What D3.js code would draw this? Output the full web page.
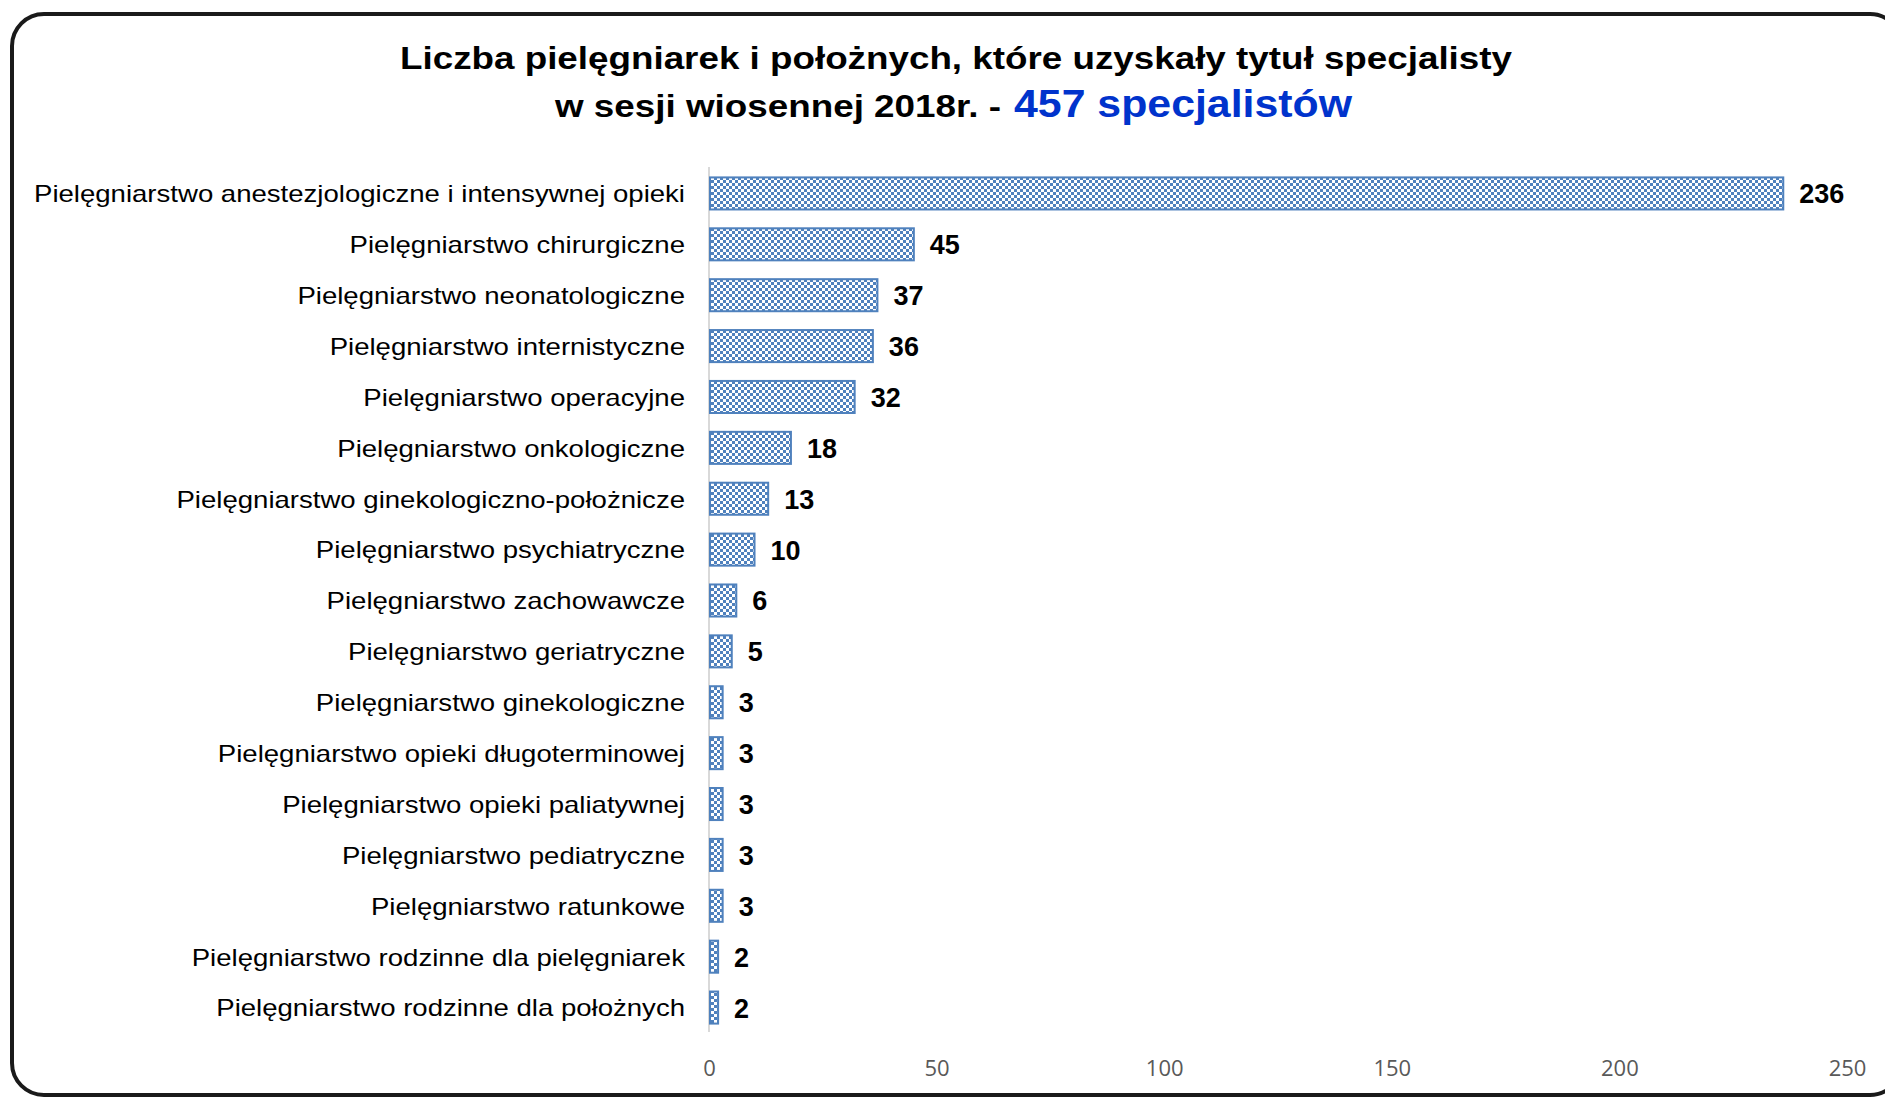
<!DOCTYPE html>
<html>
<head>
<meta charset="utf-8">
<script src="https://cdn.jsdelivr.net/npm/d3@7"></script>
<style>
  body { margin: 0; background: #fff; }
  svg { display: block; }
</style>
</head>
<body>
<svg id="chart" width="1885" height="1099"></svg>
<script>
// dane z wykresu
var categories = [
    "Pielęgniarstwo anestezjologiczne i intensywnej opieki",
    "Pielęgniarstwo chirurgiczne",
    "Pielęgniarstwo neonatologiczne",
    "Pielęgniarstwo internistyczne",
    "Pielęgniarstwo operacyjne",
    "Pielęgniarstwo onkologiczne",
    "Pielęgniarstwo ginekologiczno-położnicze",
    "Pielęgniarstwo psychiatryczne",
    "Pielęgniarstwo zachowawcze",
    "Pielęgniarstwo geriatryczne",
    "Pielęgniarstwo ginekologiczne",
    "Pielęgniarstwo opieki długoterminowej",
    "Pielęgniarstwo opieki paliatywnej",
    "Pielęgniarstwo pediatryczne",
    "Pielęgniarstwo ratunkowe",
    "Pielęgniarstwo rodzinne dla pielęgniarek",
    "Pielęgniarstwo rodzinne dla położnych"
];
var values = [236, 45, 37, 36, 32, 18, 13, 10, 6, 5, 3, 3, 3, 3, 3, 2, 2];
var xTicks = [0, 50, 100, 150, 200, 250];
var titleLine1 = "Liczba pielęgniarek i położnych, które uzyskały tytuł specjalisty";
var titleLine2a = "w sesji wiosennej 2018r. -";
var titleLine2b = "457 specjalistów";

var svg = d3.select("#chart");

var barBlue = "#4f81bd";
var fontArial = "Liberation Sans, Arial, sans-serif";

// wzór szachownicy na słupkach
var defs = svg.append("defs");
var pat = defs.append("pattern")
    .attr("id", "checker")
    .attr("width", 6)
    .attr("height", 6)
    .attr("patternUnits", "userSpaceOnUse");
pat.append("rect").attr("width", 6).attr("height", 6).attr("fill", barBlue);
pat.append("rect").attr("x", 0).attr("y", 0).attr("width", 3).attr("height", 3).attr("fill", "#fff");
pat.append("rect").attr("x", 3).attr("y", 3).attr("width", 3).attr("height", 3).attr("fill", "#fff");

// ramka
svg.append("rect")
    .attr("x", 12).attr("y", 14)
    .attr("width", 1890).attr("height", 1081)
    .attr("rx", 32).attr("ry", 32)
    .attr("fill", "none")
    .attr("stroke", "#1a1a1a")
    .attr("stroke-width", 4);

// tytuł
svg.append("text")
    .attr("x", 956).attr("y", 69)
    .attr("text-anchor", "middle")
    .attr("font-family", fontArial)
    .attr("font-weight", "bold")
    .attr("font-size", 32)
    .attr("textLength", 1112)
    .attr("lengthAdjust", "spacingAndGlyphs")
    .text(titleLine1);

var t2 = svg.append("text")
    .attr("y", 117)
    .attr("font-family", fontArial)
    .attr("font-weight", "bold");
t2.append("tspan")
    .attr("x", 555)
    .attr("font-size", 32)
    .attr("textLength", 446)
    .attr("lengthAdjust", "spacingAndGlyphs")
    .text(titleLine2a);
t2.append("tspan")
    .attr("x", 1014)
    .attr("font-size", 39)
    .attr("fill", "#0033cc")
    .attr("textLength", 338)
    .attr("lengthAdjust", "spacingAndGlyphs")
    .text(titleLine2b);

// skale
var x = d3.scaleLinear().domain([0, 250]).range([709, 1847]);
var y = d3.scaleBand().domain(categories).range([168, 1033]).paddingInner(0.37).paddingOuter(0.185);

// oś pionowa
svg.append("line")
    .attr("x1", x(0)).attr("x2", x(0))
    .attr("y1", 167).attr("y2", 1032)
    .attr("stroke", "#d9d9d9")
    .attr("stroke-width", 2);

// słupki
svg.append("g").selectAll("rect")
    .data(values)
    .join("rect")
    .attr("x", x(0) + 1)
    .attr("y", function (d, i) { return y(categories[i]); })
    .attr("width", function (d) { return x(d) - x(0) - 1; })
    .attr("height", y.bandwidth())
    .attr("fill", "url(#checker)")
    .attr("stroke", barBlue)
    .attr("stroke-width", 2);

// etykiety wartości
svg.append("g").selectAll("text")
    .data(values)
    .join("text")
    .attr("x", function (d) { return x(d) + 16; })
    .attr("y", function (d, i) { return y(categories[i]) + y.bandwidth() / 2; })
    .attr("dy", "0.37em")
    .attr("font-family", fontArial)
    .attr("font-weight", "bold")
    .attr("font-size", 27)
    .attr("fill", "#000")
    .text(function (d) { return d; });

// etykiety kategorii
var catLabels = svg.append("g").selectAll("text")
    .data(categories)
    .join("text")
    .attr("x", 685)
    .attr("y", function (d) { return y(d) + y.bandwidth() / 2; })
    .attr("dy", "0.37em")
    .attr("text-anchor", "end")
    .attr("font-family", fontArial)
    .attr("font-size", 24)
    .attr("fill", "#000")
    .text(function (d) { return d; });

// dopasowanie szerokości (tekst w oryginale jest lekko ściśnięty)
var longest = catLabels.filter(function (d, i) { return i === 0; }).node().getComputedTextLength();
var squeeze = 651 / longest;
catLabels.each(function () {
    var w = this.getComputedTextLength();
    d3.select(this).attr("textLength", w * squeeze).attr("lengthAdjust", "spacingAndGlyphs");
});

// oś X
var xAxis = svg.append("g")
    .attr("transform", "translate(0,1060)")
    .call(d3.axisBottom(x).tickValues(xTicks).tickSize(0).tickPadding(0));
xAxis.select(".domain").remove();
xAxis.selectAll("text")
    .attr("font-family", "Open Sans, sans-serif")
    .attr("font-size", 22)
    .attr("fill", "#595959");
</script>
</body>
</html>
